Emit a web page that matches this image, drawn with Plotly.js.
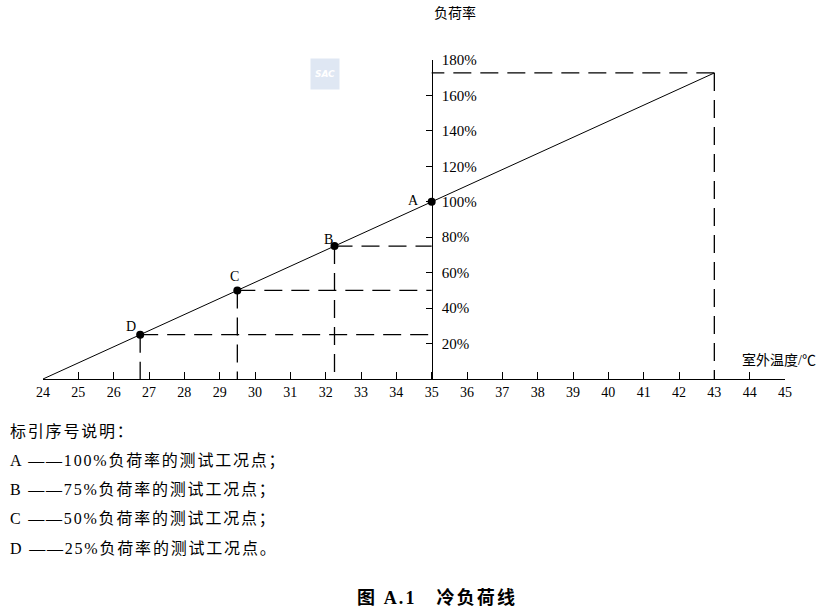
<!DOCTYPE html>
<html>
<head>
<meta charset="utf-8">
<script src="https://cdn.plot.ly/plotly-3.0.1.min.js"></script>
<style>
  html, body { margin: 0; padding: 0; background: #fff; }
  #chart { width: 828px; height: 613px; }
</style>
</head>
<body>
<div id="chart"></div>
<script>
// ── Data ──
const tempTicks = [24, 25, 26, 27, 28, 29, 30, 31, 32, 33, 34, 35, 36, 37, 38, 39, 40, 41, 42, 43, 44, 45];
const rateTicks = [20, 40, 60, 80, 100, 120, 140, 160, 180];
const rateTickText = ['20%', '40%', '60%', '80%', '100%', '120%', '140%', '160%', '180%'];

// load line: from 0% at 24 °C up to the design point at 43 °C
const lineTemp = [24, 43];
const lineRate = [0, 172.7];

// test points A–D
const pointNames = ['A', 'B', 'C', 'D'];
const pointTemp = [35, 32.25, 29.5, 26.75];
const pointRate = [100, 75, 50, 25];

const axisTemp = 35;     // where the rate axis crosses
const legendLines = [
    '标引序号说明：',
    'A ——100%负荷率的测试工况点；',
    'B ——75%负荷率的测试工况点；',
    'C ——50%负荷率的测试工况点；',
    'D ——25%负荷率的测试工况点。'
];
const figTitle = '图 A.1　冷负荷线';

// label nudges (px) for A–D, as placed in the original figure
const labelShift = { A: [-18, 1], B: [-6, 7], C: [-3, 14], D: [-9, 8] };

// ── Dashed guide lines (point → rate axis, point → temp axis) ──
const guideX = [], guideY = [];
function addGuide(tx, ry) {
    guideX.push(tx, axisTemp, null, tx, tx, null);
    guideY.push(ry, ry, null, ry, 0, null);
}
pointTemp.forEach((t, i) => { if (t !== axisTemp) addGuide(t, pointRate[i]); });
addGuide(lineTemp[1], lineRate[1]);

const FONT = 'Liberation Serif, "Noto Sans CJK SC", serif';

const traces = [
    {
        x: guideX, y: guideY,
        type: 'scatter', mode: 'lines',
        line: { color: '#000', width: 1.3, dash: '18px,9px' },
        hoverinfo: 'skip'
    },
    {
        x: lineTemp, y: lineRate,
        type: 'scatter', mode: 'lines',
        line: { color: '#000', width: 1 },
        hoverinfo: 'skip'
    },
    {
        x: pointTemp, y: pointRate,
        type: 'scatter', mode: 'markers',
        marker: { color: '#000', size: 8 },
        cliponaxis: false,
        hoverinfo: 'skip'
    }
];

const annotations = pointNames.map((n, i) => ({
    x: pointTemp[i], y: pointRate[i], xref: 'x', yref: 'y',
    text: n, showarrow: false,
    xanchor: 'center', yanchor: 'middle',
    xshift: labelShift[n][0], yshift: labelShift[n][1],
    font: { family: FONT, size: 14, color: '#000' }
}));

annotations.push(
    {
        x: axisTemp, y: 1.147, xref: 'x', yref: 'paper',
        text: '负荷率', showarrow: false,
        xanchor: 'left', yanchor: 'middle', align: 'left',
        font: { family: FONT, size: 14, color: '#000' }
    },
    {
        x: 1.0445, y: 0.06, xref: 'paper', yref: 'paper',
        text: '室外温度/℃', showarrow: false,
        xanchor: 'right', yanchor: 'middle',
        font: { family: FONT, size: 14, color: '#000' }
    },
    {   // watermark
        x: 0.380, y: 0.955, xref: 'paper', yref: 'paper',
        text: '<b><i>SAC</i></b>', showarrow: false,
        xanchor: 'center', yanchor: 'middle',
        width: 24, height: 26, borderpad: 2,
        bgcolor: 'rgba(196,212,234,0.55)',
        font: { family: 'DejaVu Sans', size: 9, color: '#fff' }
    }
);

// letter spacing per annotation index (applied after drawing)
const spacing = {};

legendLines.forEach((t, i) => {
    spacing[annotations.length] = 1.8;
    annotations.push({
        x: -0.047, y: -0.166 - i * 0.091, xref: 'paper', yref: 'paper',
        text: t, showarrow: false,
        xanchor: 'left', yanchor: 'middle', align: 'left',
        font: { family: FONT, size: 16, color: '#000' }
    });
});

spacing[annotations.length] = 2.1;
annotations.push({
    x: 0.4205, y: -0.6865, xref: 'paper', yref: 'paper',
    text: '<b>' + figTitle + '</b>', showarrow: false,
    xanchor: 'left', yanchor: 'middle', align: 'left',
    font: { family: FONT, size: 18, color: '#000' }
});

const layout = {
    width: 828, height: 613,
    margin: { t: 60, r: 43, b: 234, l: 43 },
    showlegend: false,
    paper_bgcolor: '#fff',
    plot_bgcolor: '#fff',
    font: { family: FONT, color: '#000' },
    xaxis: {
        range: [24, 45],
        tickvals: tempTicks,
        ticks: 'inside', ticklen: 7, tickcolor: '#000', tickwidth: 1,
        showline: true, linecolor: '#000', linewidth: 1,
        showgrid: false, zeroline: false,
        tickfont: { family: FONT, size: 14, color: '#000' }
    },
    yaxis: {
        range: [0, 180],
        anchor: 'free', position: (axisTemp - 24) / (45 - 24), side: 'right',
        tickvals: rateTicks, ticktext: rateTickText,
        ticks: 'inside', ticklen: 6, tickcolor: '#000', tickwidth: 1,
        ticklabelstandoff: 6,
        showline: true, linecolor: '#000', linewidth: 1,
        showgrid: false, zeroline: false,
        tickfont: { family: FONT, size: 15, color: '#000' }
    },
    annotations: annotations
};

Plotly.newPlot('chart', traces, layout, { displayModeBar: false, staticPlot: true }).then(gd => {
    gd.querySelectorAll('g.annotation').forEach(g => {
        const ls = spacing[+g.getAttribute('data-index')];
        if (ls) g.querySelectorAll('text').forEach(t => { t.style.letterSpacing = ls + 'px'; });
    });
});
</script>
</body>
</html>
